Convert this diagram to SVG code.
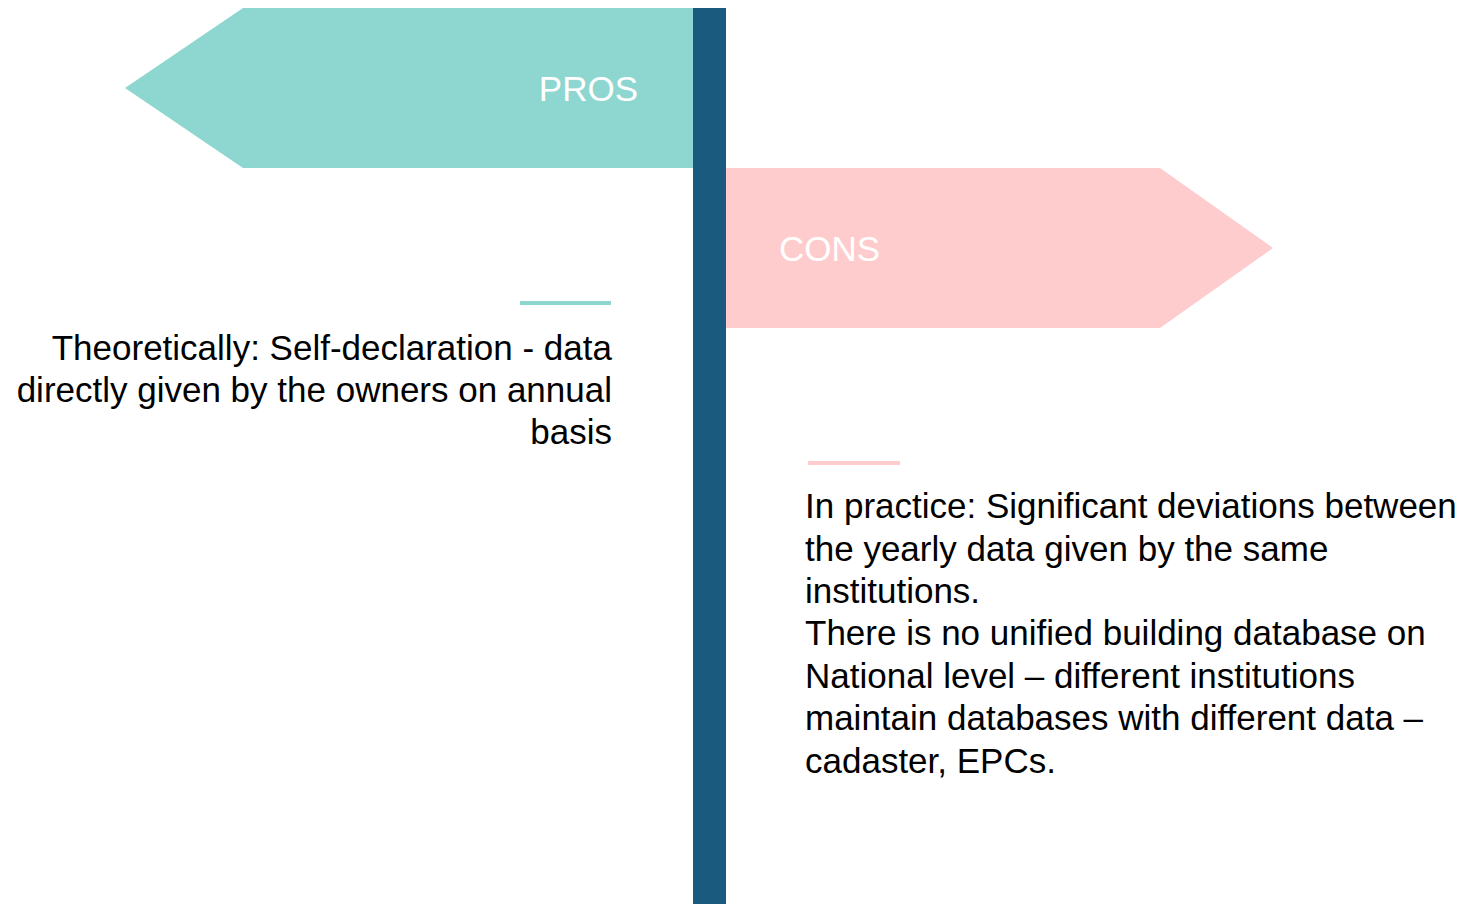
<svg xmlns="http://www.w3.org/2000/svg" width="1466" height="904" viewBox="0 0 1466 904">
<style>
.lbl{font-family:"Liberation Sans",Arial,sans-serif;font-size:35px;fill:#ffffff}
.body{font-family:"Liberation Sans",Arial,sans-serif;font-size:35px;fill:#000000}
</style>
<rect width="1466" height="904" fill="#ffffff"/>
<g id="pros">
<polygon points="125,88 243,8 693,8 693,168 243,168" fill="#8ED7D0"/>
<text class="lbl" x="638" y="101" text-anchor="end">PROS</text>
</g>
<g id="cons">
<polygon points="726,168 1160,168 1273,248 1160,328 726,328" fill="#FFCCCD"/>
<text class="lbl" x="779" y="261">CONS</text>
</g>
<g id="pole">
<rect x="693" y="8" width="33" height="896" fill="#1B5A7F"/>
</g>
<g id="pros-text">
<rect x="520" y="301" width="91" height="4" fill="#8ED7D0"/>
<text class="body" text-anchor="end"><tspan x="612" y="360">Theoretically: Self-declaration - data</tspan><tspan x="612" y="402">directly given by the owners on annual</tspan><tspan x="612" y="444">basis</tspan></text>
</g>
<g id="cons-text">
<rect x="808" y="461" width="92" height="4" fill="#FFCCCD"/>
<text class="body"><tspan x="805" y="518">In practice: Significant deviations between</tspan><tspan x="805" y="561">the yearly data given by the same</tspan><tspan x="805" y="603">institutions.</tspan><tspan x="805" y="645">There is no unified building database on</tspan><tspan x="805" y="688">National level – different institutions</tspan><tspan x="805" y="730">maintain databases with different data –</tspan><tspan x="805" y="773">cadaster, EPCs.</tspan></text>
</g>
<g id="connectors"></g>
</svg>
